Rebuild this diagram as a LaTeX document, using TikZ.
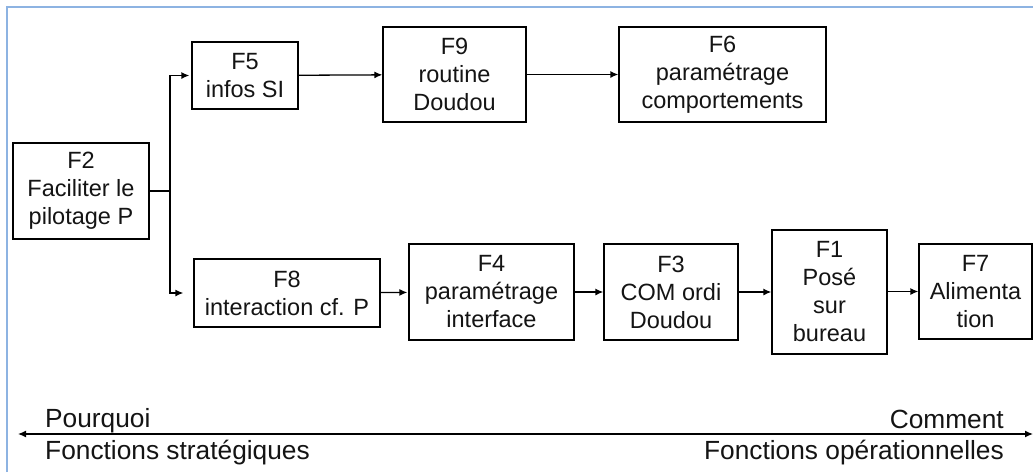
\documentclass[tikz,border=0pt]{standalone}
\usepackage{fontspec}
\setmainfont{Liberation Sans}
\usetikzlibrary{arrows.meta}
\definecolor{frameblue}{HTML}{8DB3E2}
\tikzset{
  fbox/.style={draw=black, line width=1.3pt, fill=white, align=center, inner sep=0pt,
    font=\fontsize{23.5}{28}\selectfont, text=black!92},
  arr/.style={line width=1.3pt, -{Latex[length=8pt,width=7pt]}},
  lab/.style={font=\fontsize{26.3}{30}\selectfont, inner sep=0pt, text=black!92}
}
\begin{document}
\begin{tikzpicture}[x=1pt,y=-1pt]
\useasboundingbox (0,0) rectangle (1033,472);
\fill[white] (0,0) rectangle (1033,472);
% frame
\draw[frameblue, line width=2.2pt] (7,472) -- (7,7) -- (1033,7);
% boxes
\node[fbox, minimum width=136pt, minimum height=96pt] (f2) at (81,191) {F2\\Faciliter le\\pilotage P};
\node[fbox, minimum width=106pt, minimum height=67pt] (f5) at (245,75.5) {F5\\infos SI};
\node[fbox, minimum width=143pt, minimum height=95pt] (f9) at (454.5,74.5) {F9\\routine\\Doudou};
\node[fbox, minimum width=207pt, minimum height=95pt] (f6) at (722.5,74.5) {F6\\paramétrage\\comportements};
\node[fbox, minimum width=186pt, minimum height=68pt] (f8) at (287,293) {F8\\interaction cf. P};
\node[fbox, minimum width=165pt, minimum height=96pt] (f4) at (491.5,292) {F4\\paramétrage\\interface};
\node[fbox, minimum width=134pt, minimum height=96pt] (f3) at (671,292) {F3\\COM ordi\\Doudou};
\node[fbox, minimum width=115pt, minimum height=124pt] (f1) at (829.5,292) {F1\\Posé\\sur\\bureau};
\node[fbox, minimum width=113pt, minimum height=95pt] (f7) at (975.5,291.5) {F7\\Alimenta\\tion};
% connectors
\coordinate (j) at (170,191);
\draw[line width=1.3pt] (f2.east) -- (j);
\draw[arr, shorten >=2pt] (j) |- (f5.west);
\draw[arr, shorten >=10pt] (j) |- (f8.west);
\draw[arr] (f5) -- (f9);
\draw[arr] (f9) -- (f6);
\draw[arr, shorten >=1pt] (f8) -- (f4);
\draw[arr] (f4) -- (f3);
\draw[arr] (f3) -- (f1);
\draw[arr] (f1.east |- f7.west) -- (f7.west);
% axis
\coordinate (al) at (18,434);
\coordinate (ar) at (1033,434);
\draw[line width=1.3pt, {Latex[length=8pt,width=7pt]}-{Latex[length=8pt,width=7pt]}] (al) -- (ar);
\node[lab, anchor=base west] (pq) at (45,427) {Pourquoi};
\node[lab, anchor=base west] (fs) at (45,459) {Fonctions stratégiques};
\node[lab, anchor=base east] (cm) at (1004,428) {Comment};
\node[lab, anchor=base east] (fo) at (1004,459) {Fonctions opérationnelles};
\end{tikzpicture}
\end{document}
